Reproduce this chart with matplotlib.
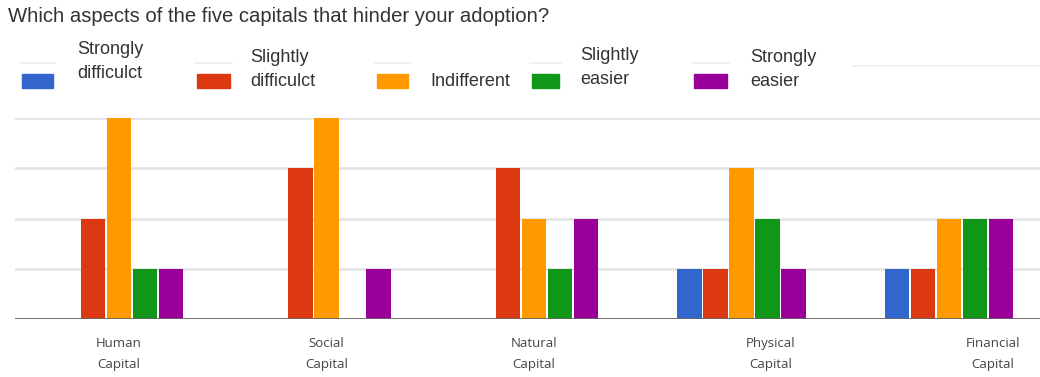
import matplotlib
matplotlib.use("Agg")
import matplotlib.pyplot as plt
from matplotlib.patches import Rectangle
from matplotlib.lines import Line2D
import numpy as np

# Responses per capital, one list per answer option
categories = ["Human\nCapital", "Social\nCapital", "Natural\nCapital",
              "Physical\nCapital", "Financial\nCapital"]
series_names = ["Strongly\ndifficulct", "Slightly\ndifficulct", "Indifferent",
                "Slightly\neasier", "Strongly\neasier"]
strongly_difficult = [0, 0, 0, 1, 1]
slightly_difficult = [2, 3, 3, 1, 1]
indifferent = [4, 4, 2, 3, 2]
slightly_easier = [1, 0, 1, 2, 2]
strongly_easier = [1, 1, 2, 1, 2]
series_values = [strongly_difficult, slightly_difficult, indifferent,
                 slightly_easier, strongly_easier]
colors = ["#3366cc", "#dc3912", "#ff9900", "#109618", "#990099"]

W, H = 1040, 377
fig = plt.figure(figsize=(W / 100, H / 100), dpi=100)


def fx(px):
    return px / W


def fy(py):
    return 1 - py / H


ax = fig.add_axes([fx(15.25), fy(319), fx(1037.5), fy(118) - fy(319)])
x = np.arange(len(categories))
step = 0.1253
width = 0.118
for i, (vals, c) in enumerate(zip(series_values, colors)):
    ax.bar(x + (i - 2) * step, vals, width=width, color=c, zorder=3)

ax.set_xlim(-0.5, len(categories) - 0.5)
ax.set_ylim(0, 4)
for yv in [1, 2, 3, 4]:
    ax.axhline(yv, color="#e3e3e3", lw=1.8, zorder=1)
ax.axhline(0, color="#666666", lw=2, zorder=4)
for s in ax.spines.values():
    s.set_visible(False)
ax.set_yticks([])
# category labels sit a little right of the later groups
label_shift = [0.0, 0.0, 0.0, 0.14, 0.21]
ax.set_xticks(x + np.array(label_shift))
ax.set_xticklabels(categories, fontsize=9.5, color="#444444",
                   family="Open Sans", linespacing=1.8)
ax.tick_params(axis="x", length=0, pad=13)

# title
fig.text(fx(8), fy(16), "Which aspects of the five capitals that hinder your adoption?",
         fontsize=14.6, family="Liberation Sans", color="#333333", va="center")

# legend row
leg = [
    (22, 31, 77, 63),
    (197, 33, 250, 63),
    (377, 31, 430, 63),
    (532, 27, 580, 63),
    (694, 33, 750, 63),
]
text_y = [(50, 73), (58, 82), (None, 81), (55, 79), (58, 82)]
fs_leg = 13
for (sx, sw, tx, ly), name, c, ty in zip(leg, series_names, colors, text_y):
    fig.add_artist(Line2D([fx(sx - 2), fx(sx + sw + 2)], [fy(ly), fy(ly)],
                          color="#efefef", lw=1.2, transform=fig.transFigure))
    fig.add_artist(Rectangle((fx(sx), fy(88)), fx(sw), fy(74) - fy(88),
                             color=c, transform=fig.transFigure))
    lines = name.split("\n")
    if len(lines) == 2:
        fig.text(fx(tx), fy(ty[0]), lines[0], fontsize=fs_leg,
                 family="Liberation Sans", color="#333333", va="center")
        fig.text(fx(tx), fy(ty[1]), lines[1], fontsize=fs_leg,
                 family="Liberation Sans", color="#333333", va="center")
    else:
        fig.text(fx(tx), fy(ty[1]), lines[0], fontsize=fs_leg,
                 family="Liberation Sans", color="#333333", va="center")
fig.add_artist(Line2D([fx(853), fx(1040)], [fy(66), fy(66)],
                      color="#efefef", lw=1.2, transform=fig.transFigure))

fig.savefig("out.png", dpi=100)
